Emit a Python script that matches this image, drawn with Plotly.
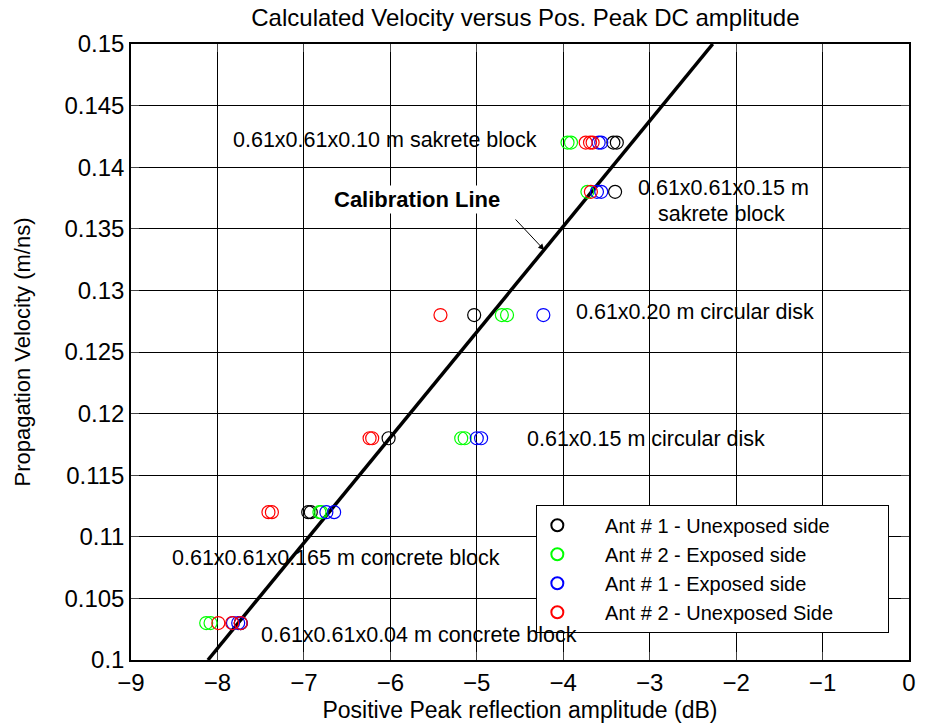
import plotly.graph_objects as go

# ---- data ----
series_names = ["Ant # 1 - Unexposed side", "Ant # 2 - Exposed side",
                "Ant # 1 - Exposed side", "Ant # 2 - Unexposed Side"]
series_colors = ["#000000", "#00FF00", "#0000FF", "#FF0000"]

black_x = [-3.42, -3.38, -3.40, -5.03, -6.02, -6.95, -6.92, -7.73]
black_y = [0.142, 0.142, 0.138, 0.128, 0.118, 0.112, 0.112, 0.103]

green_x = [-3.95, -3.91, -3.72, -4.71, -4.65, -5.18, -5.14, -6.82, -6.80, -8.13, -8.08]
green_y = [0.142, 0.142, 0.138, 0.128, 0.128, 0.118, 0.118, 0.112, 0.112, 0.103, 0.103]

blue_x = [-3.59, -3.56, -3.61, -3.56, -4.23, -5.00, -4.95, -6.74, -6.65, -7.82, -7.76, -7.73]
blue_y = [0.142, 0.142, 0.138, 0.138, 0.128, 0.118, 0.118, 0.112, 0.112, 0.103, 0.103, 0.103]

red_x = [-3.74, -3.69, -3.66, -3.68, -5.42, -6.24, -6.21, -7.41, -7.37, -7.99, -7.83, -7.73]
red_y = [0.142, 0.142, 0.142, 0.138, 0.128, 0.118, 0.118, 0.112, 0.112, 0.103, 0.103, 0.103]

calib_x = [-8.11, -2.27]
calib_y = [0.100, 0.150]

x_ticks = [-9, -8, -7, -6, -5, -4, -3, -2, -1, 0]
y_ticks = [0.1, 0.105, 0.11, 0.115, 0.12, 0.125, 0.13, 0.135, 0.14, 0.145, 0.15]
y_ticklabels = ["0.1", "0.105", "0.11", "0.115", "0.12", "0.125", "0.13", "0.135", "0.14", "0.145", "0.15"]

labels = [
    ("0.61x0.61x0.10 m sakrete block", -7.84, 0.1422),
    ("0.61x0.61x0.15 m", -3.16, 0.1383),
    ("sakrete block", -2.93, 0.1362),
    ("0.61x0.20 m circular disk", -3.87, 0.12825),
    ("0.61x0.15 m circular disk", -4.44, 0.11794),
    ("0.61x0.61x0.165 m concrete block", -8.55, 0.10828),
    ("0.61x0.61x0.04 m concrete block", -7.52, 0.10203),
]

FONT = "Liberation Sans, Arial, sans-serif"
NB = "\u00a0"

fig = go.Figure()

fig.add_trace(go.Scatter(x=calib_x, y=calib_y, mode="lines",
                         line=dict(color="black", width=3.5),
                         showlegend=False, hoverinfo="skip"))

for name, color, xs, ys in zip(series_names, series_colors,
                               [black_x, green_x, blue_x, red_x],
                               [black_y, green_y, blue_y, red_y]):
    fig.add_trace(go.Scatter(x=xs, y=ys, mode="markers",
                             name=NB * 5 + name + NB * 9,
                             marker=dict(symbol="circle-open", size=13,
                                         color=color, line=dict(width=1.2, color=color))))

for txt, x, y in labels:
    fig.add_annotation(x=x, y=y, text=txt, showarrow=False, xanchor="left",
                       yanchor="middle", font=dict(family=FONT, size=21.5, color="black"))

fig.add_annotation(x=-5.69, y=0.13734, text="<b>Calibration Line</b>", showarrow=False,
                   xanchor="center", yanchor="middle", bgcolor="white",
                   font=dict(family=FONT, size=22, color="black"))
fig.add_annotation(x=-4.22, y=0.13328, text="", showarrow=True, arrowhead=2,
                   arrowsize=1.2, arrowwidth=1, arrowcolor="black", ax=-30, ay=-32)

fig.update_layout(
    width=925, height=728,
    margin=dict(l=131, r=9, t=44, b=68),
    paper_bgcolor="white", plot_bgcolor="white",
    font=dict(family=FONT, color="black"),
    title=dict(text="Calculated Velocity versus Pos. Peak DC amplitude",
               x=0.568, xanchor="center", y=1 - 18 / 728, yanchor="middle",
               font=dict(family=FONT, size=24, color="black")),
    showlegend=True,
    legend=dict(x=0.521, y=0.252, xanchor="left", yanchor="top",
                bgcolor="white", bordercolor="black", borderwidth=1,
                font=dict(family=FONT, size=20, color="black"),
                itemsizing="constant", tracegroupgap=0),
)

fig.update_xaxes(range=[-9, 0], tickvals=x_ticks, ticks="inside", ticklen=8,
                 showline=True, linecolor="black", linewidth=1.5, mirror="allticks",
                 showgrid=True, gridcolor="black", gridwidth=1, zeroline=False,
                 tickfont=dict(family=FONT, size=24, color="black"),
                 title=dict(text="Positive Peak reflection amplitude (dB)",
                            font=dict(family=FONT, size=23, color="black"), standoff=7))
fig.update_yaxes(range=[0.1, 0.15], tickvals=y_ticks, ticktext=y_ticklabels,
                 ticks="inside", ticklen=8,
                 showline=True, linecolor="black", linewidth=1.5, mirror="allticks",
                 showgrid=True, gridcolor="black", gridwidth=1, zeroline=False,
                 tickfont=dict(family=FONT, size=24, color="black"),
                 title=dict(text="Propagation Velocity (m/ns)",
                            font=dict(family=FONT, size=22, color="black"), standoff=28))

fig.write_html("out.html")
